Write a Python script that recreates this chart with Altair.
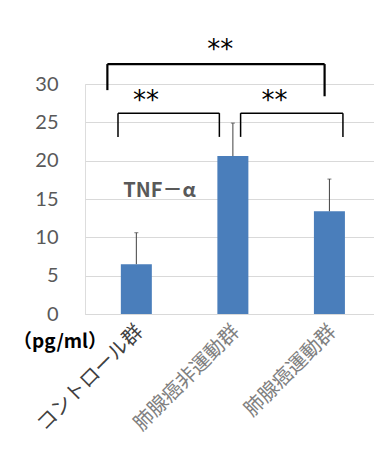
import altair as alt
import pandas as pd

categories = ["コントロール群", "肺腺癌非運動群", "肺腺癌運動群"]
positions = [0, 1, 2]
means = [6.5, 20.6, 13.4]
uppers = [10.6, 24.9, 17.6]
y_ticks = [0, 5, 10, 15, 20, 25, 30]

# significance brackets
br_x1 = [-0.30, -0.19, 1.08]
br_x2 = [1.95, 0.86, 2.14]
br_top = [32.6, 26.2, 26.2]
br_lend = [29.2, 23.1, 23.1]
br_rend = [28.4, 23.1, 23.1]
br_w = [2.2, 1.5, 1.5]

star_x = [0.87, 0.10, 1.43]
star_y = [35.6, 29.0, 29.0]
star_txt = ["**", "**", "**"]

bars = pd.DataFrame({"pos": positions, "cat": categories, "mean": means, "upper": uppers})

xscale = alt.Scale(domain=[-0.48, 2.41], nice=False, zero=False)
yscale = alt.Scale(domain=[0, 30], nice=False, zero=False)

label_expr = "datum.value == 0 ? '%s' : datum.value == 1 ? '%s' : '%s'" % tuple(categories)

xaxis = alt.Axis(
    values=positions, labelExpr=label_expr, labelAngle=-45, labelAlign="right",
    labelBaseline="middle", labelPadding=14, labelOffset=3, ticks=False, grid=False,
    domainColor="#d9d9d9", labelFont="Noto Sans CJK JP", labelFontSize=20,
    labelColor={"expr": "datum.value == 0 ? '#404040' : '#808080'"}, title=None,
    labelOverlap=False, labelFlush=False, labelLimit=300)
yaxis = alt.Axis(
    values=y_ticks, ticks=False, domain=False, gridColor="#d9d9d9", grid=True,
    labelOverlap=False, labelFont="Lato", labelFontSize=20, labelColor="#595959",
    labelPadding=27, title=None)


def X(f):
    return alt.X(f, scale=xscale, axis=xaxis)


def Y(f):
    return alt.Y(f, scale=yscale, axis=yaxis)


bar = alt.Chart(bars).mark_bar(size=31, color="#4a7ebb").encode(x=X("pos:Q"), y=Y("mean:Q"))

err = alt.Chart(bars).mark_rule(color="#404040", strokeWidth=1).encode(
    x=X("pos:Q"), y=Y("mean:Q"), y2="upper:Q")
cap = alt.Chart(bars).mark_tick(color="#404040", size=4, thickness=1, orient="horizontal").encode(
    x=X("pos:Q"), y=Y("upper:Q"))

br = pd.DataFrame({"x1": br_x1, "x2": br_x2, "top": br_top, "lend": br_lend, "rend": br_rend, "w": br_w})
h = alt.Chart(br).mark_rule(color="black").encode(
    x=X("x1:Q"), x2="x2:Q", y=Y("top:Q"), strokeWidth=alt.StrokeWidth("w:Q", scale=None))
lleg = alt.Chart(br).mark_rule(color="black").encode(
    x=X("x1:Q"), y=Y("top:Q"), y2="lend:Q", strokeWidth=alt.StrokeWidth("w:Q", scale=None))
rleg = alt.Chart(br).mark_rule(color="black").encode(
    x=X("x2:Q"), y=Y("top:Q"), y2="rend:Q", strokeWidth=alt.StrokeWidth("w:Q", scale=None))

stars = pd.DataFrame({"x": star_x, "y": star_y, "t": star_txt})
st = alt.Chart(stars).mark_text(font="DejaVu Sans", fontSize=26, color="black",
                                baseline="middle", align="center", dy=9).encode(
    x=X("x:Q"), y=Y("y:Q"), text="t:N")

ann = pd.DataFrame({"x": [0.24, -0.79], "y": [16.0, -3.7], "t": ["TNF－α", "（pg/ml）"],
                    "c": ["#595959", "#000000"], "s": [20, 19]})
annt = alt.Chart(ann).mark_text(font="Noto Sans CJK JP", fontWeight="bold",
                                baseline="middle", align="center").encode(
    x=X("x:Q"), y=Y("y:Q"), text="t:N", color=alt.Color("c:N", scale=None),
    size=alt.Size("s:Q", scale=None))

chart = alt.layer(bar, err, cap, h, lleg, rleg, st, annt).properties(
    width=289, height=230,
    autosize=alt.AutoSizeParams(type="none"),
    padding={"left": 77, "top": 76, "right": 0, "bottom": 145},
).configure_view(stroke=None).configure(background="white")

chart.save("out.html", embed_options={"renderer": "svg", "actions": False})
